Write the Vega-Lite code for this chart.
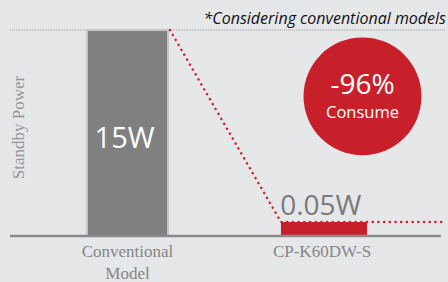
{
  "$schema": "https://vega.github.io/schema/vega-lite/v6.json",
  "width": 436,
  "height": 206,
  "autosize": "none",
  "padding": {"left": 10, "top": 30, "right": 2, "bottom": 46},
  "background": "#e6e7e9",
  "config": {"view": {"stroke": null}},
  "datasets": {
    "bars": [
      {"model": "Conventional Model", "x0": 0.794, "x1": 1.206, "b": 0, "h": 15, "kind": "conv"},
      {"model": "CP-K60DW-S", "x0": 1.781, "x1": 2.219, "b": 0, "h": 1.02, "kind": "new"}
    ],
    "topline": [{"u": 0.402, "v": 15}, {"u": 2.621, "v": 15}],
    "baseline": [{"u": 0.402, "v": 0}, {"u": 2.595, "v": 0}],
    "redline": [{"u": 1.216, "v": 15}, {"u": 1.781, "v": 1.02}, {"u": 2.621, "v": 1.02}],
    "circle": [{"u": 2.196, "v": 10.17}]
  },
  "layer": [
    {
      "data": {"name": "topline"},
      "mark": {"type": "line", "color": "#a0a0a0", "strokeWidth": 1, "strokeDash": [1, 1]},
      "encoding": {
        "x": {"field": "u", "type": "quantitative", "scale": {"domain": [0.402, 2.621], "nice": false, "zero": false}, "axis": null},
        "y": {"field": "v", "type": "quantitative", "scale": {"domain": [0, 15], "nice": false, "zero": false}, "axis": null}
      }
    },
    {
      "data": {"name": "bars"},
      "mark": {"type": "rect", "stroke": "#c6c6c6", "strokeWidth": 2},
      "encoding": {
        "x": {"field": "x0", "type": "quantitative", "axis": null},
        "x2": {"field": "x1"},
        "y": {"field": "b", "type": "quantitative", "axis": null},
        "y2": {"field": "h"},
        "color": {"field": "kind", "type": "nominal", "scale": {"domain": ["conv", "new"], "range": ["#808080", "#c8202a"]}, "legend": null},
        "strokeOpacity": {"field": "kind", "type": "nominal", "scale": {"domain": ["conv", "new"], "range": [1, 0]}, "legend": null}
      }
    },
    {
      "data": {"name": "baseline"},
      "mark": {"type": "line", "color": "#8a8a8a", "strokeWidth": 2.5},
      "encoding": {"x": {"field": "u", "type": "quantitative", "axis": null}, "y": {"field": "v", "type": "quantitative", "axis": null}}
    },
    {
      "data": {"name": "redline"},
      "mark": {"type": "line", "color": "#d0202a", "strokeWidth": 2.5, "strokeDash": [0.1, 5.6], "strokeCap": "round"},
      "encoding": {"x": {"field": "u", "type": "quantitative", "axis": null}, "y": {"field": "v", "type": "quantitative", "axis": null}}
    },
    {
      "data": {"name": "circle"},
      "mark": {"type": "point", "shape": "circle", "filled": true, "color": "#c8202a", "opacity": 1, "size": 13900},
      "encoding": {"x": {"field": "u", "type": "quantitative", "axis": null}, "y": {"field": "v", "type": "quantitative", "axis": null}}
    },
    {
      "data": {"values": [{"u": 2.196, "v": 10.34, "t": "-96%"}]},
      "mark": {"type": "text", "font": "Open Sans", "fontSize": 28, "color": "#ffffff", "align": "center", "baseline": "alphabetic"},
      "encoding": {"x": {"field": "u", "type": "quantitative", "axis": null}, "y": {"field": "v", "type": "quantitative", "axis": null}, "text": {"field": "t"}}
    },
    {
      "data": {"values": [{"u": 2.196, "v": 8.6, "t": "Consume"}]},
      "mark": {"type": "text", "font": "Open Sans", "fontSize": 16.5, "color": "#ffffff", "align": "center", "baseline": "alphabetic"},
      "encoding": {"x": {"field": "u", "type": "quantitative", "axis": null}, "y": {"field": "v", "type": "quantitative", "axis": null}, "text": {"field": "t"}}
    },
    {
      "data": {"values": [{"u": 0.985, "v": 6.41, "t": "15W"}]},
      "mark": {"type": "text", "font": "Open Sans", "fontSize": 29, "color": "#ffffff", "align": "center", "baseline": "alphabetic"},
      "encoding": {"x": {"field": "u", "type": "quantitative", "axis": null}, "y": {"field": "v", "type": "quantitative", "axis": null}, "text": {"field": "t"}}
    },
    {
      "data": {"values": [{"u": 1.984, "v": 1.53, "t": "0.05W"}]},
      "mark": {"type": "text", "font": "Open Sans", "fontSize": 28, "color": "#7a7a7a", "align": "center", "baseline": "alphabetic"},
      "encoding": {"x": {"field": "u", "type": "quantitative", "axis": null}, "y": {"field": "v", "type": "quantitative", "axis": null}, "text": {"field": "t"}}
    },
    {
      "data": {"values": [{"u": 2.621, "v": 15.44, "t": "*Considering conventional models"}]},
      "mark": {"type": "text", "font": "Open Sans", "fontSize": 16, "fontStyle": "italic", "color": "#111111", "align": "right", "baseline": "alphabetic"},
      "encoding": {"x": {"field": "u", "type": "quantitative", "axis": null}, "y": {"field": "v", "type": "quantitative", "axis": null}, "text": {"field": "t"}}
    },
    {
      "data": {"values": [{"u": 1.0, "v": -1.53, "t": "Conventional\nModel"}, {"u": 1.99, "v": -1.53, "t": "CP-K60DW-S"}]},
      "mark": {"type": "text", "font": "Liberation Serif", "fontSize": 17, "color": "#858585", "align": "center", "baseline": "alphabetic", "lineBreak": "\n", "lineHeight": 22},
      "encoding": {"x": {"field": "u", "type": "quantitative", "axis": null}, "y": {"field": "v", "type": "quantitative", "axis": null}, "text": {"field": "t"}}
    },
    {
      "data": {"values": [{"u": 0.448, "v": 7.9, "t": "Standby Power"}]},
      "mark": {"type": "text", "font": "Liberation Serif", "fontSize": 17, "color": "#959595", "align": "center", "baseline": "middle", "angle": 270},
      "encoding": {"x": {"field": "u", "type": "quantitative", "axis": null}, "y": {"field": "v", "type": "quantitative", "axis": null}, "text": {"field": "t"}}
    }
  ]
}
